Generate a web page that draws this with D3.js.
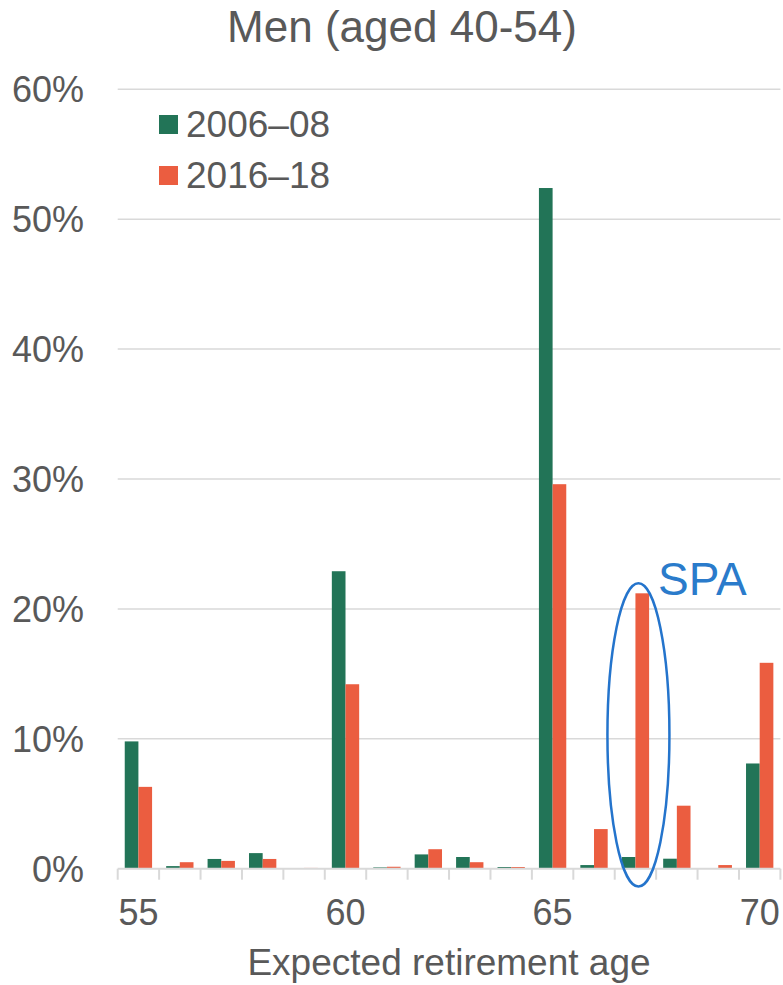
<!DOCTYPE html>
<html>
<head>
<meta charset="utf-8">
<script src="https://cdn.jsdelivr.net/npm/d3@7"></script>
<style>
  html, body { margin: 0; padding: 0; background: #ffffff; }
  svg { display: block; font-family: "Liberation Sans", Arial, sans-serif; }
</style>
</head>
<body>
<svg id="chart" width="783" height="985"></svg>
<script>
const categories = ["55","56","57","58","59","60","61","62","63","64","65","66","67","68","69","70"];
const seriesNames = ["2006–08", "2016–18"];
const values2006 = [9.8, 0.2, 0.75, 1.2, 0, 22.9, 0.1, 1.1, 0.9, 0.13, 52.4, 0.28, 0.9, 0.77, 0, 8.1];
const values2016 = [6.3, 0.5, 0.6, 0.75, 0.06, 14.2, 0.15, 1.5, 0.5, 0.13, 29.6, 3.05, 21.2, 4.85, 0.28, 15.85];
const yTicks = [0, 10, 20, 30, 40, 50, 60];
const xLabels = ["55", "60", "65", "70"];
const colors = ["#227457", "#eb5d40"];

(function () {
const svg = d3.select("#chart");
const plotLeft = 117.7, plotRight = 780.4, plotTop = 89.3, plotBottom = 868.7;

const x0 = d3.scaleBand().domain(categories).range([plotLeft, plotRight]).padding(0);
const bw = x0.bandwidth();
const x1 = d3.scaleBand().domain(seriesNames).range([bw * 0.17, bw * 0.83]).padding(0);
const y = d3.scaleLinear().domain([0, 60]).range([plotBottom, plotTop]);

// gridlines
svg.append("g").selectAll("line").data(yTicks.filter(t => t > 0)).join("line")
  .attr("x1", plotLeft).attr("x2", plotRight)
  .attr("y1", d => y(d)).attr("y2", d => y(d))
  .attr("stroke", "#d9d9d9").attr("stroke-width", 1.5);

// y labels
svg.append("g").selectAll("text").data(yTicks).join("text")
  .attr("x", 84).attr("y", d => y(d))
  .attr("dy", "0.36em")
  .attr("text-anchor", "end")
  .attr("font-size", 36).attr("fill", "#595959")
  .text(d => d + "%");

// bars
const rows = categories.map((c, i) => ({ cat: c, vals: [values2006[i], values2016[i]] }));
const groups = svg.append("g").selectAll("g").data(rows).join("g")
  .attr("transform", d => `translate(${x0(d.cat)},0)`);
groups.selectAll("rect").data(d => d.vals.map((v, j) => ({ name: seriesNames[j], v, j }))).join("rect")
  .attr("x", d => x1(d.name))
  .attr("width", x1.bandwidth())
  .attr("y", d => y(d.v))
  .attr("height", d => y(0) - y(d.v))
  .attr("fill", d => colors[d.j]);

// x axis line and ticks
svg.append("line").attr("x1", plotLeft).attr("x2", plotRight).attr("y1", plotBottom).attr("y2", plotBottom)
  .attr("stroke", "#d9d9d9").attr("stroke-width", 2);
const tickXs = categories.map(c => x0(c)).concat([plotRight]);
svg.append("g").selectAll("line").data(tickXs).join("line")
  .attr("x1", d => d).attr("x2", d => d)
  .attr("y1", plotBottom).attr("y2", plotBottom + 11)
  .attr("stroke", "#d9d9d9").attr("stroke-width", 2);

// x labels
svg.append("g").selectAll("text").data(xLabels).join("text")
  .attr("x", d => x0(d) + bw / 2)
  .attr("y", 925)
  .attr("text-anchor", "middle")
  .attr("font-size", 36).attr("fill", "#595959")
  .text(d => d);

// axis title
svg.append("text").attr("x", 449).attr("y", 975)
  .attr("text-anchor", "middle").attr("font-size", 37).attr("fill", "#595959")
  .text("Expected retirement age");

// chart title
svg.append("text").attr("x", 402).attr("y", 42)
  .attr("text-anchor", "middle").attr("font-size", 44).attr("fill", "#595959")
  .text("Men (aged 40-54)");

// legend
const leg = svg.append("g");
seriesNames.forEach((name, i) => {
  const yy = 124 + i * 51;
  leg.append("rect").attr("x", 159).attr("y", yy - 9).attr("width", 19).attr("height", 19)
    .attr("fill", colors[i]);
  leg.append("text").attr("x", 186).attr("y", yy).attr("dy", "0.36em")
    .attr("font-size", 37).attr("fill", "#595959").text(name);
});

// SPA annotation
const cx = x0("67") + bw / 2 + 3;
svg.append("ellipse")
  .attr("cx", cx).attr("cy", y(10.3))
  .attr("rx", 31).attr("ry", (y(0) - y(23.35)) / 2)
  .attr("fill", "none").attr("stroke", "#2474cc").attr("stroke-width", 2.5);
svg.append("text").attr("x", 658).attr("y", 595)
  .attr("font-size", 46).attr("fill", "#2a7bcb").text("SPA");
})();
</script>
</body>
</html>
